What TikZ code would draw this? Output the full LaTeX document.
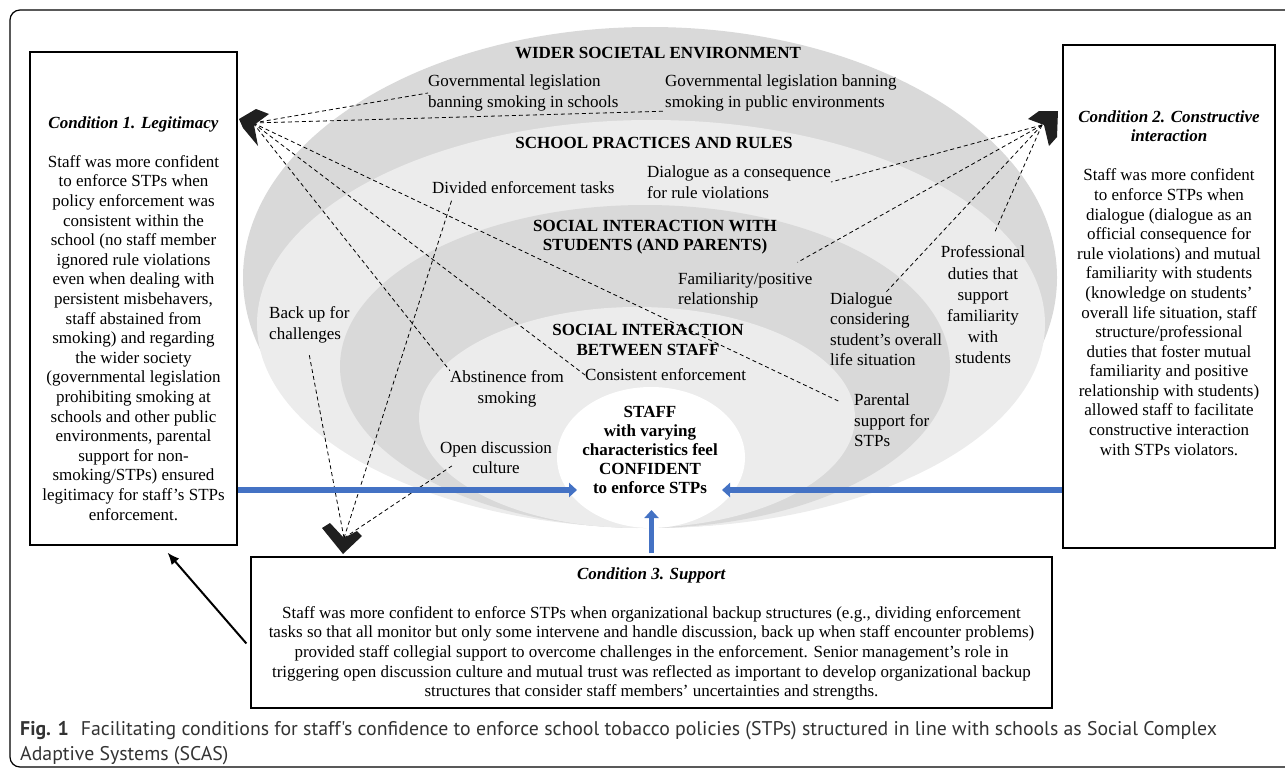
\documentclass[tikz,border=0pt]{standalone}
\usepackage{fontspec}
\setmainfont{Liberation Serif}
\newfontfamily\capfont{PT Sans}
\usetikzlibrary{arrows.meta}

\definecolor{ringdark}{HTML}{D9D9D9}
\definecolor{ringlight}{HTML}{ECECEC}
\definecolor{pushblue}{HTML}{4472C4}
\definecolor{capgray}{HTML}{333333}

\begin{document}
\begin{tikzpicture}[x=1pt,y=-1pt,
  every node/.style={inner sep=0pt, font=\fontsize{17}{20.5}\selectfont},
  item/.style={align=left},
  mid/.style={align=center},
  body/.style={align=center, font=\fontsize{17}{19.6}\selectfont},
  ring/.style={align=center, font=\fontsize{17}{19.6}\selectfont\bfseries},
  frame/.style={draw, line width=1.2pt},
  link/.style={line width=0.8pt, dash pattern=on 4pt off 3pt},
  push/.style={pushblue, line width=5.5pt, -{Triangle[width=14pt,length=8pt]}},
  lean/.style={line width=2pt, -{Latex[length=12pt,width=10pt]}},
  head/.style={fill=black!88}]
\useasboundingbox (0,0) rectangle (1285,776);

% nested rings, outermost first
\fill[ringdark] (650,277.5) ellipse [x radius=407, y radius=250.5];
\fill[ringlight] (651,324) ellipse [x radius=394, y radius=204];
\fill[ringdark] (645,366.5) ellipse [x radius=305, y radius=161.5];
\fill[ringlight] (637,417.5) ellipse [x radius=218, y radius=110.5];
\fill[white] (651,457.5) ellipse [x radius=94, y radius=70.5];

% figure frame
\draw[line width=1.2pt, rounded corners=10pt] (1285,10) -- (10,10) -- (10,767) -- (1285,767);

% condition boxes
\node[frame, minimum width=207pt, minimum height=493pt] (cond1) at (133.5,298.5) {};
\node[frame, minimum width=212pt, minimum height=503pt] (cond2) at (1169,296.5) {};
\node[frame, minimum width=801pt, minimum height=151pt] (cond3) at (651.5,632.5) {};

\node[body, anchor=north] (txt1) at (133.5,116) {\textbf{\textit{Condition 1. Legitimacy}}\\[19.6pt]
  Staff was more confident\\to enforce STPs when\\policy enforcement was\\consistent within the\\
  school (no staff member\\ignored rule violations\\even when dealing with\\persistent misbehavers,\\
  staff abstained from\\smoking) and regarding\\the wider society\\(governmental legislation\\
  prohibiting smoking at\\schools and other public\\environments, parental\\support for non-\\
  smoking/STPs) ensured\\legitimacy for staff's STPs\\enforcement.};
\node[body, anchor=north] (txt2) at (1169,110) {\textbf{\textit{Condition 2. Constructive}}\\
  \textbf{\textit{interaction}}\\[19.6pt]
  Staff was more confident\\to enforce STPs when\\dialogue (dialogue as an\\official consequence for\\
  rule violations) and mutual\\familiarity with students\\(knowledge on students'\\
  overall life situation, staff\\structure/professional\\duties that foster mutual\\
  familiarity and positive\\relationship with students)\\allowed staff to facilitate\\
  constructive interaction\\with STPs violators.};
\node[body, anchor=north] (txt3) at (651.5,567) {\textbf{\textit{Condition 3. Support}}\\[19.6pt]
  Staff was more confident to enforce STPs when organizational backup structures (e.g., dividing enforcement\\
  tasks so that all monitor but only some intervene and handle discussion, back up when staff encounter problems)\\
  provided staff collegial support to overcome challenges in the enforcement. Senior management's role in\\
  triggering open discussion culture and mutual trust was reflected as important to develop organizational backup\\
  structures that consider staff members' uncertainties and strengths.};

% ring titles and items
\node[ring] (wider) at (658,53) {WIDER SOCIETAL ENVIRONMENT};
\node[item, anchor=west] (schools) at (428,93) {Governmental legislation\\banning smoking in schools};
\node[item, anchor=west] (public) at (665,93) {Governmental legislation banning\\smoking in public environments};
\node[ring] (school) at (654,143) {SCHOOL PRACTICES AND RULES};
\node[item, anchor=west] (div) at (432,188) {Divided enforcement tasks};
\node[item, anchor=west] (dcons) at (647,182) {Dialogue as a consequence\\for rule violations};
\node[ring] (students) at (655,237) {SOCIAL INTERACTION WITH\\STUDENTS (AND PARENTS)};
\node[item, anchor=west] (famil) at (678,290.5) {Familiarity/positive\\relationship};
\node[item, anchor=west] (dlife) at (830,329) {Dialogue\\considering\\student's overall\\life situation};
\node[item, anchor=west] (par) at (854,420.5) {Parental\\support for\\STPs};
\node[mid, font=\fontsize{17}{21.2}\selectfont] (prof) at (983,305) {Professional\\duties that\\support\\familiarity\\with\\students};
\node[ring] (staff) at (648,340) {SOCIAL INTERACTION\\BETWEEN STAFF};
\node[mid] (abst) at (507,389) {Abstinence from\\smoking};
\node[item, anchor=west] (cons) at (585,375) {Consistent enforcement};
\node[mid] (open) at (496,457.5) {Open discussion\\culture};
\node[item, anchor=west] (back) at (269,325) {Back up for\\challenges};
\node[ring, font=\fontsize{17}{19}\selectfont\bfseries] (core) at (650,450) {STAFF\\with varying\\characteristics feel\\CONFIDENT\\to enforce STPs};

% caption
\node[anchor=north west, align=left, text=capgray, font=\capfont\fontsize{19.8}{25}\selectfont] (cap) at (20,721)
  {\textbf{Fig. 1}\hspace{0.6em}Facilitating conditions for staff's confidence to enforce school tobacco policies (STPs) structured in line with schools as Social Complex\\Adaptive Systems (SCAS)};

\coordinate (hubL) at (253,123);
\coordinate (hubR) at (1042,125);
\coordinate (hubB) at (344,538);
\coordinate (tipL) at (577,490);
\coordinate (tipR) at (722,490);
\coordinate (tipB) at (651.5,510);

\path[link] (hubL) edge [] (schools.west);
\path[link] (hubL) edge [] (public.south west);
\path[link] (hubL) edge [] (abst.north west);
\path[link] (hubL) edge [] (cons.west);
\path[link] (hubL) edge [] ([xshift=-14pt,yshift=-8pt]par.north west);

\path[link] (hubR) edge [] (dcons.east);
\path[link] (hubR) edge [] ([xshift=-15pt,yshift=10pt]famil.north east);
\path[link] (hubR) edge [] (dlife.north);
\path[link] (hubR) edge [] ([xshift=12pt,yshift=14pt]prof.north);

\path[link] (hubB) edge [] ([xshift=20pt,yshift=-5pt]div.south west);
\path[link] (hubB) edge [] ([yshift=-12pt]back.south);
\path[link] (hubB) edge [] ([xshift=12pt,yshift=8pt]open.south west);

% chevron heads where the dashed lines meet
\fill[head, shift={(hubL)}] (-14,-4) -- (3,-14) -- (16,-9) -- (1,2) -- (5,23) -- (-10,5) -- cycle;
\fill[head, shift={(hubR)}] (-14,-6) -- (-3,-14) -- (16,-14) -- (15,12) -- (7,21) -- (2,0) -- cycle;
\fill[head, shift={(hubB)}] (-22,-10) -- (-14,-15) -- (0,0) -- (13,-7) -- (18,-2) -- (-1,16) -- cycle;

\path[push] (cond1.east |- tipL) edge [] (tipL);
\path[push] (cond2.west |- tipR) edge [] (tipR);
\path[push] ([yshift=3pt]cond3.north) edge [] (tipB);

\path[lean] ([xshift=-4pt,yshift=-11pt]cond3.west) edge [] ([xshift=34pt,yshift=-7pt]cond1.south);
\end{tikzpicture}
\end{document}
